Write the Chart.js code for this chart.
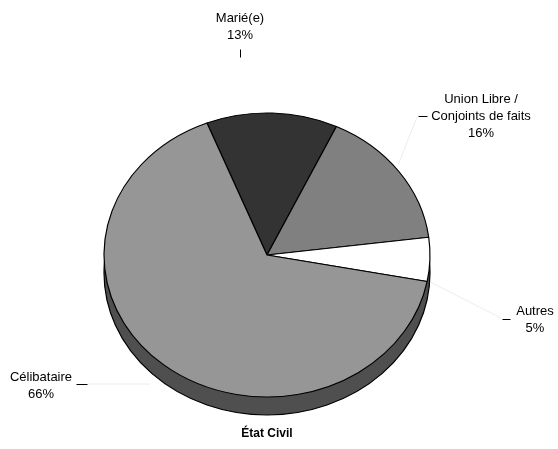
<!DOCTYPE html>
<html>
<head>
<meta charset="utf-8">
<script src="https://cdn.jsdelivr.net/npm/chart.js@4.4.0/dist/chart.umd.min.js"></script>
<style>
  html, body { margin: 0; padding: 0; background: #fff; }
  #pie { display: block; }
</style>
</head>
<body>
<canvas id="pie" width="558" height="449"></canvas>
<script>

var categories = ['Marié(e)', 'Union Libre /\nConjoints de faits', 'Autres', 'Célibataire'];
var percents = [13, 16, 5, 66];
var sliceColors = ['#333333', '#808080', '#ffffff', '#969696'];
var chartTitle = 'État Civil';

// where each label block sits, and the little tick next to it
var labelSpots = [
  { x: 240, y: 18, tick: [240, 49, 240, 57], lead: null },
  { x: 481, y: 99, tick: [418, 116, 427, 116], lead: [417, 117, 398, 165] },
  { x: 535, y: 311, tick: [502, 319, 510, 319], lead: [501, 318, 430, 282] },
  { x: 41, y: 377, tick: [76, 384, 87, 384], lead: [88, 384, 150, 384] }
];

var squash = 142 / 163;   // flattens the circle into a tilted disc
var depth = 18;

var font = '13px Arial, "Liberation Sans", sans-serif';

var tiltPlugin = {
  id: 'tilt',
  beforeDatasetsDraw: function(chart) {
    var ctx = chart.ctx;
    var arc = chart.getDatasetMeta(0).data[0];
    var cx = arc.x, cy = arc.y, r = arc.outerRadius;

    // side wall of the disc, only the part below the middle shows
    ctx.save();
    ctx.beginPath();
    ctx.rect(0, cy + 6, chart.width, chart.height);
    ctx.clip();
    ctx.save();
    ctx.translate(cx, cy + depth);
    ctx.scale(1, squash);
    ctx.beginPath();
    ctx.arc(0, 0, r, 0, Math.PI * 2);
    ctx.restore();
    ctx.fillStyle = '#4f4f4f';
    ctx.fill();
    ctx.lineWidth = 1.2;
    ctx.strokeStyle = '#000';
    ctx.stroke();
    ctx.restore();

    ctx.save();
    ctx.translate(cx, cy);
    ctx.scale(1, squash);
    ctx.translate(-cx, -cy);
  },
  afterDatasetsDraw: function(chart) {
    chart.ctx.restore();
  }
};

var labelPlugin = {
  id: 'sliceLabels',
  afterDraw: function(chart) {
    var ctx = chart.ctx;
    ctx.save();
    ctx.font = font;
    ctx.fillStyle = '#000';
    ctx.textAlign = 'center';
    ctx.textBaseline = 'middle';

    for (var i = 0; i < categories.length; i++) {
      var spot = labelSpots[i];
      var lines = categories[i].split('\n');
      lines.push(percents[i] + '%');
      for (var j = 0; j < lines.length; j++) {
        ctx.fillText(lines[j], spot.x, spot.y + j * 17);
      }
      if (spot.lead) {
        ctx.strokeStyle = '#ececec';
        ctx.lineWidth = 1;
        ctx.beginPath();
        ctx.moveTo(spot.lead[0], spot.lead[1]);
        ctx.lineTo(spot.lead[2], spot.lead[3]);
        ctx.stroke();
      }
      ctx.strokeStyle = '#000';
      ctx.lineWidth = 1;
      ctx.beginPath();
      ctx.moveTo(spot.tick[0] + 0.5, spot.tick[1] + 0.5);
      ctx.lineTo(spot.tick[2] + 0.5, spot.tick[3] + 0.5);
      ctx.stroke();
    }

    ctx.font = 'bold 12px Arial, "Liberation Sans", sans-serif';
    ctx.fillText(chartTitle, 267, 434);
    ctx.restore();
  }
};

new Chart(document.getElementById('pie'), {
  type: 'pie',
  data: {
    labels: categories,
    datasets: [{
      data: percents,
      backgroundColor: sliceColors,
      borderColor: '#000',
      borderWidth: 1.2,
      borderAlign: 'center'
    }]
  },
  options: {
    responsive: false,
    animation: false,
    rotation: -21.6,
    radius: 163,
    layout: { padding: { left: 104, right: 128, top: 92, bottom: 31 } },
    plugins: {
      legend: { display: false },
      tooltip: { enabled: false },
      title: { display: false }
    }
  },
  plugins: [tiltPlugin, labelPlugin]
});
</script>
</body>
</html>
